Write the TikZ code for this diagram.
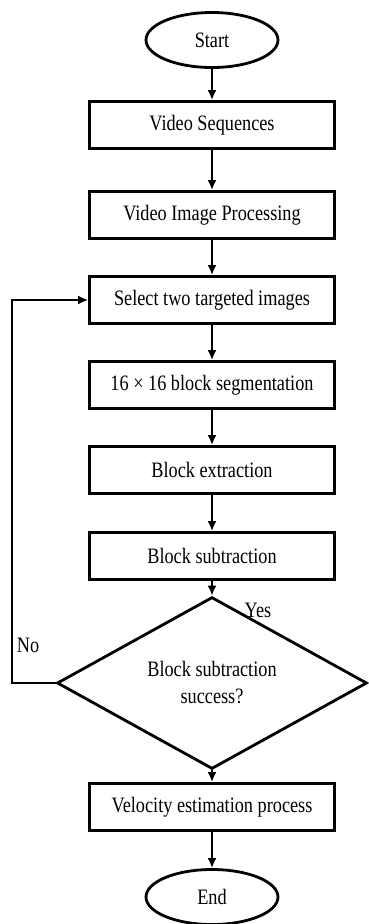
\documentclass[tikz,border=0pt]{standalone}
\usepackage{fontspec}
\setmainfont{Liberation Serif}[FakeStretch=0.83]
\usetikzlibrary{shapes.geometric,arrows.meta}

\def \boxwidth {245pt}
\def \boxheight {47pt}
\def \midx {212}
\def \loopx {12}

\begin{document}
\begin{tikzpicture}[x=1pt, y=-1pt, line width=2.8pt, >={Latex[length=10pt,width=9pt]},
  every node/.style={font=\fontsize{22}{27}\selectfont},
  stepbox/.style={draw, rectangle, minimum width=\boxwidth, minimum height=\boxheight, inner sep=0pt},
  termbox/.style={draw, ellipse, minimum width=132pt, minimum height=55pt, inner sep=0pt},
  testbox/.style={draw, diamond, minimum width=310pt, minimum height=124pt, inner sep=0pt, align=center}]
\useasboundingbox (0,0) rectangle (368,924);

\draw (\midx,40) node[termbox] (start) {Start};
\draw (\midx,125) node[stepbox] (seq) {Video Sequences};
\draw (\midx,215) node[stepbox] (proc) {Video Image Processing};
\draw (\midx,300) node[stepbox] (select) {Select two targeted images};
\draw (\midx,385) node[stepbox] (segm) {16 × 16 block segmentation};
\draw (\midx,470) node[stepbox] (extr) {Block extraction};
\draw (\midx,556) node[stepbox] (subtr) {Block subtraction};
\draw (\midx,683) node[testbox] (check) {Block subtraction\\success?};
\draw (\midx,807) node[stepbox] (velo) {Velocity estimation process};
\draw (\midx,897) node[termbox] (stop) {End};

\draw[->] (start) -- (seq);
\draw[->] (seq) -- (proc);
\draw[->] (proc) -- (select);
\draw[->] (select) -- (segm);
\draw[->] (segm) -- (extr);
\draw[->] (extr) -- (subtr);
\draw[->] (subtr) -- (check);
\draw[->] (check) -- (velo);
\draw[->] (velo) -- (stop);

% back to image selection
\coordinate (loop) at (\loopx,683);
\draw[->] (check.west) -- (loop) |- (select.west);
\node (no) at (28,645) {No};
\node (yes) at (258,610) {Yes};
\end{tikzpicture}
\end{document}
